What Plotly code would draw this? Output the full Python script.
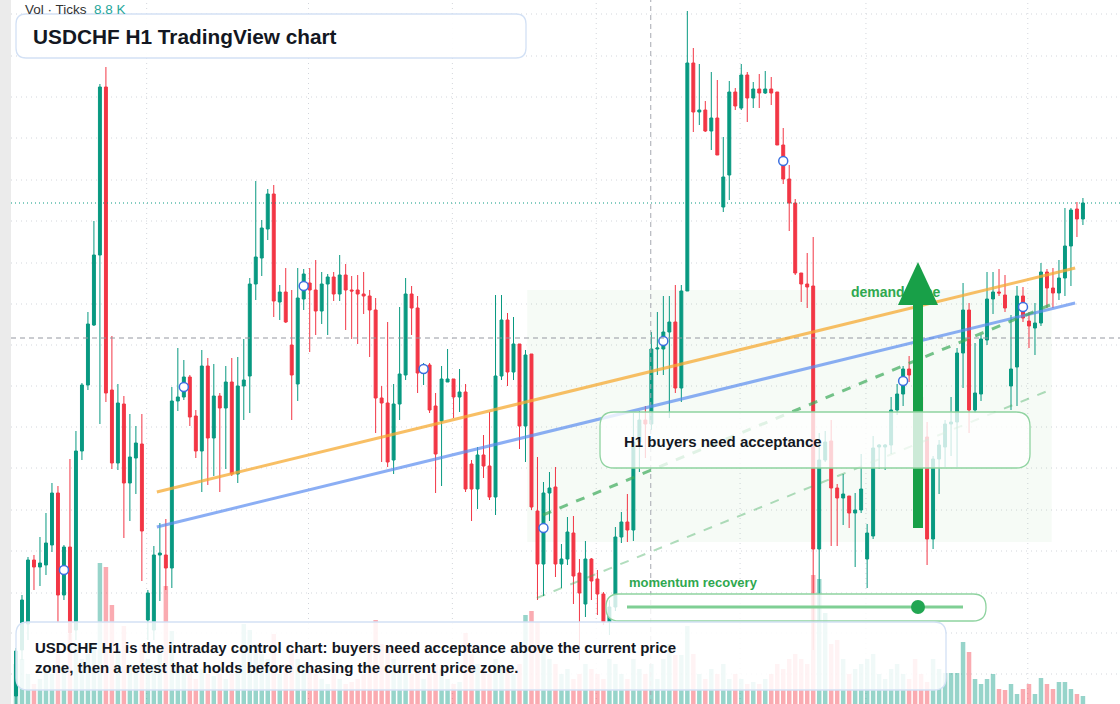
import plotly.graph_objects as go

# USDCHF H1 candles (relative price units)
opens = [304,350,376,440,433,435,455,507,405,453,370,549,615,675,745,913,610,537,596,517,
         542,556,380,370,445,445,432,599,603,623,584,549,634,562,604,592,618,526,614,624,
         716,742,771,806,698,708,655,616,701,717,710,689,716,723,706,725,710,710,706,704,
         690,602,597,540,596,625,706,692,627,635,594,579,618,621,603,608,536,511,545,534,
         503,624,680,628,656,574,646,489,436,507,513,436,441,467,427,396,441,421,406,378,
         393,463,478,470,558,580,576,651,651,668,678,612,709,937,888,890,869,882,793,825,
         908,892,925,902,911,907,911,908,855,821,797,727,716,714,451,540,559,512,502,504,
         487,490,441,464,553,553,555,590,606,631,625,603,563,461,541,553,576,578,647,690,
         590,606,660,701,708,705,614,633,704,679,672,677,728,712,707,722,754,791,781]
closes = [349,400,440,433,437,457,507,405,453,367,549,615,676,745,913,607,537,597,517,543,
          557,469,407,445,447,432,599,603,623,583,549,634,562,604,592,618,526,614,620,716,
          743,772,806,699,708,678,625,702,726,710,689,716,723,706,725,710,709,706,704,690,
          602,597,538,596,626,706,692,627,631,590,546,621,621,603,608,511,511,545,534,503,
          624,680,628,656,574,645,493,436,507,512,436,441,468,424,407,441,419,406,378,393,
          463,478,470,558,580,576,651,652,668,678,612,709,937,888,890,869,882,845,823,908,
          894,925,902,911,907,911,907,855,821,797,727,716,713,451,540,558,512,502,506,487,
          490,511,467,552,555,555,590,606,631,625,603,563,461,541,555,576,578,647,690,590,
          607,661,701,708,707,692,631,704,682,674,677,728,712,707,722,754,790,781,797]
highs = [352,405,443,445,463,487,517,514,455,541,569,617,688,779,916,933,664,616,604,586,
         574,586,410,454,477,481,613,652,640,625,590,650,642,636,607,634,642,643,661,722,
         819,780,811,815,715,732,710,732,731,732,740,728,726,728,745,736,724,725,728,710,
         702,614,678,616,693,722,714,704,637,637,607,634,651,621,631,616,540,553,565,588,
         705,705,687,683,656,650,646,543,518,528,533,456,483,484,441,459,442,430,408,400,
         473,488,506,587,589,594,668,688,704,704,715,715,989,952,936,899,928,920,863,919,
         912,936,928,918,926,929,923,908,872,835,801,727,747,763,567,569,580,516,526,504,
         507,546,476,564,556,556,603,616,634,644,635,605,578,544,560,580,603,652,717,697,
         657,665,728,728,731,725,685,714,713,688,697,737,731,732,740,792,792,798,802]
lows = [296,340,360,410,414,425,448,378,400,360,360,540,610,674,576,598,531,530,462,479,
        506,419,360,360,399,410,412,589,600,574,542,508,515,524,508,531,524,517,580,587,
        700,724,760,683,680,677,580,599,690,648,665,676,665,699,699,670,661,656,686,643,
        567,538,533,526,580,620,665,607,615,587,507,514,618,582,588,508,479,491,522,500,
        485,620,614,620,551,538,490,400,404,479,423,412,435,396,340,383,400,385,375,365,
        389,457,458,459,528,542,570,625,625,582,607,598,709,868,875,868,850,845,788,800,
        890,890,878,892,892,906,895,855,816,769,725,698,692,350,380,538,454,454,475,472,
        433,487,412,461,531,530,546,585,594,618,595,550,435,451,506,533,544,533,612,567,
        587,599,655,686,704,688,590,594,678,652,645,674,692,692,700,704,714,763,775]
volumes = [40,45,30,20,25,35,30,50,40,70, 60,45,50,60,141,137,99,55,78,40,
           35,60,45,40,50,118,73,40,35,30, 25,35,30,28,30,25,30,35,80,74,
           60,50,45,70,30,40,55,45,40,35, 30,25,20,30,25,20,22,25,30,60,
           84,60,55,45,40,35,30,35,25,30, 40,35,25,20,22,71,50,40,35,30,
           45,40,35,30,40,89,93,82,60,45, 40,30,35,25,30,40,35,30,25,45,
           40,30,25,45,35,30,40,25,45,60, 49,49,78,50,30,25,35,30,40,25,
           30,25,20,22,20,25,30,40,35,45, 50,45,40,129,125,91,60,64,45,30,
           35,40,45,50,30,25,35,40,30,25, 45,30,22,45,35,31,31,31,62,52,
           25,20,25,30,15,14,20,10,15,20, 10,26,20,15,22,22,15,10,8]
marker_idx = [8, 28, 48, 68, 88, 108, 128, 148, 168]
marker_val = [430, 613, 714, 631, 472, 659, 839, 619, 693]
grid_x = [21.8, 48.8, 72.8, 96.8, 120.8, 141.8, 168.8]
grid_y = [986, 944, 903, 862, 820, 779, 737, 696, 655, 614, 573, 532, 490, 449, 407, 367, 326]
last_price = 797
cross_price, cross_idx = 662, 105.9

n = len(opens)
idx = list(range(n))
GREEN, RED = "#089981", "#F23645"
W, H = 1120, 704
def px(x): return x / W
def py(y): return 1 - y / H

fig = go.Figure()
vcol = ["rgba(8,153,129,0.42)" if c >= o else "rgba(242,54,69,0.42)" for o, c in zip(opens, closes)]
fig.add_trace(go.Bar(x=idx, y=volumes, marker_color=vcol, marker_line_width=0, width=0.75,
                     yaxis="y2", hoverinfo="skip"))
fig.add_trace(go.Candlestick(x=idx, open=opens, high=highs, low=lows, close=closes,
                             increasing=dict(line=dict(color=GREEN, width=1), fillcolor=GREEN),
                             decreasing=dict(line=dict(color=RED, width=1), fillcolor=RED),
                             whiskerwidth=0, hoverinfo="skip"))
fig.add_trace(go.Scatter(x=marker_idx, y=marker_val, mode="markers", hoverinfo="skip",
                         marker=dict(size=9, color="white", line=dict(color="#3b6fe0", width=1.5))))
fig.add_trace(go.Scatter(x=[139.3], y=[707], mode="text", text=["<b>demand zone</b>"],
                         textposition="middle right", hoverinfo="skip",
                         textfont=dict(size=14, color="#2fa84f", family="Liberation Sans")))

shapes = []
shapes.append(dict(type="rect", xref="paper", yref="paper", x0=0, x1=px(11), y0=0, y1=1,
                   fillcolor="#ebebeb", line_width=0, layer="below"))
for g in grid_x:
    shapes.append(dict(type="line", xref="x", yref="paper", x0=g, x1=g, y0=0, y1=1,
                       line=dict(color="#d3d6dc", width=1, dash="1px,4px"), layer="below"))
for g in grid_y:
    shapes.append(dict(type="line", xref="paper", yref="y", x0=px(11), x1=1, y0=g, y1=g,
                       line=dict(color="#d3d6dc", width=1, dash="1px,4px"), layer="below"))
shapes.append(dict(type="rect", x0=85.3, x1=172.8, y0=458, y1=710, fillcolor="rgba(76,175,80,0.05)",
                   line_width=0, layer="below"))
shapes.append(dict(type="line", xref="paper", x0=px(11), x1=1, y0=last_price, y1=last_price,
                   line=dict(color="#089981", width=1, dash="1px,3px")))
shapes.append(dict(type="line", xref="paper", x0=px(11), x1=1, y0=cross_price, y1=cross_price,
                   line=dict(color="#9598a1", width=1, dash="5px,4px")))
shapes.append(dict(type="line", yref="paper", x0=cross_idx, x1=cross_idx, y0=0, y1=1,
                   line=dict(color="#a6a9b0", width=1, dash="5px,4px")))
shapes.append(dict(type="line", x0=23.5, x1=176.7, y0=508, y1=732,
                   line=dict(color="rgba(245,170,50,0.75)", width=3)))
shapes.append(dict(type="line", x0=23.5, x1=176.7, y0=473, y1=697,
                   line=dict(color="rgba(90,140,240,0.7)", width=3)))
shapes.append(dict(type="line", x0=87.9, x1=172.5, y0=485, y1=695,
                   line=dict(color="rgba(60,170,90,0.7)", width=3, dash="dash")))
shapes.append(dict(type="line", x0=86.9, x1=172.5, y0=402, y1=610,
                   line=dict(color="rgba(60,170,90,0.4)", width=2, dash="dash")))
# arrow
shapes.append(dict(type="line", xref="paper", yref="paper", x0=px(918), x1=px(918), y0=py(528), y1=py(300),
                   line=dict(color="#18a048", width=10)))
shapes.append(dict(type="path", xref="paper", yref="paper",
                   path=f"M {px(898)} {py(305)} L {px(918)} {py(262)} L {px(938)} {py(305)} Z",
                   fillcolor="#18a048", line_width=0))

def rbox(x0, y0, x1, y1, r, fill, line):
    rx, ry = r / W, r / H
    a, b, c, d = px(x0), px(x1), py(y0), py(y1)
    p = (f"M {a+rx} {c} L {b-rx} {c} Q {b} {c} {b} {c-ry} L {b} {d+ry} Q {b} {d} {b-rx} {d} "
         f"L {a+rx} {d} Q {a} {d} {a} {d+ry} L {a} {c-ry} Q {a} {c} {a+rx} {c} Z")
    return dict(type="path", xref="paper", yref="paper", path=p, fillcolor=fill,
                line=dict(color=line, width=1.3))

shapes.append(rbox(16, 14, 526, 58, 10, "rgba(255,255,255,0.92)", "#d3e1f5"))
shapes.append(rbox(600, 412, 1030, 468, 14, "rgba(255,255,255,0.78)", "#8fd3a0"))
shapes.append(rbox(606, 594, 986, 621, 13, "rgba(255,255,255,0.8)", "#8fd3a0"))
shapes.append(dict(type="line", xref="paper", yref="paper", x0=px(627), x1=px(963), y0=py(607), y1=py(607),
                   line=dict(color="#7fcf94", width=3)))
shapes.append(dict(type="circle", xref="paper", yref="paper", x0=px(911), x1=px(925), y0=py(614), y1=py(600),
                   fillcolor="#22a652", line_width=0))
shapes.append(rbox(16, 622, 946, 690, 12, "rgba(255,255,255,0.86)", "#d3e1f5"))

F = "Liberation Sans"
ann = [
    dict(x=px(23), y=py(9), text="Vol · Ticks  <span style='color:#26a69a'>8.8 K</span>",
         font=dict(size=13.5, color="#333", family=F)),
    dict(x=px(31), y=py(36), text="<b>USDCHF H1 TradingView chart</b>", font=dict(size=20.8, color="#131722", family=F)),
    dict(x=px(622), y=py(441), text="<b>H1 buyers need acceptance</b>", font=dict(size=15, color="#131722", family=F)),
    dict(x=px(627), y=py(582), text="<b>momentum recovery</b>", font=dict(size=13, color="#2fa84f", family=F)),
    dict(x=px(33), y=py(657), align="left",
         text="<b>USDCHF H1 is the intraday control chart: buyers need acceptance above the current price<br>"
              "zone, then a retest that holds before chasing the current price zone.</b>",
         font=dict(size=15, color="#131722", family=F)),
]
for a in ann:
    a.update(xref="paper", yref="paper", xanchor="left", yanchor="middle", showarrow=False)

fig.update_layout(
    width=W, height=H, margin=dict(l=0, r=0, t=0, b=0), plot_bgcolor="white", paper_bgcolor="white",
    showlegend=False, shapes=shapes, annotations=ann, hovermode=False,
    xaxis=dict(range=[-16/5.994, (W-16)/5.994], visible=False, rangeslider=dict(visible=False)),
    yaxis=dict(range=[296, 1000], visible=False),
    yaxis2=dict(range=[0, 704], overlaying="y", visible=False),
)
fig.write_html("out.html", config={"displayModeBar": False},
               post_script="document.body.style.margin='0';document.body.style.overflow='hidden';")
